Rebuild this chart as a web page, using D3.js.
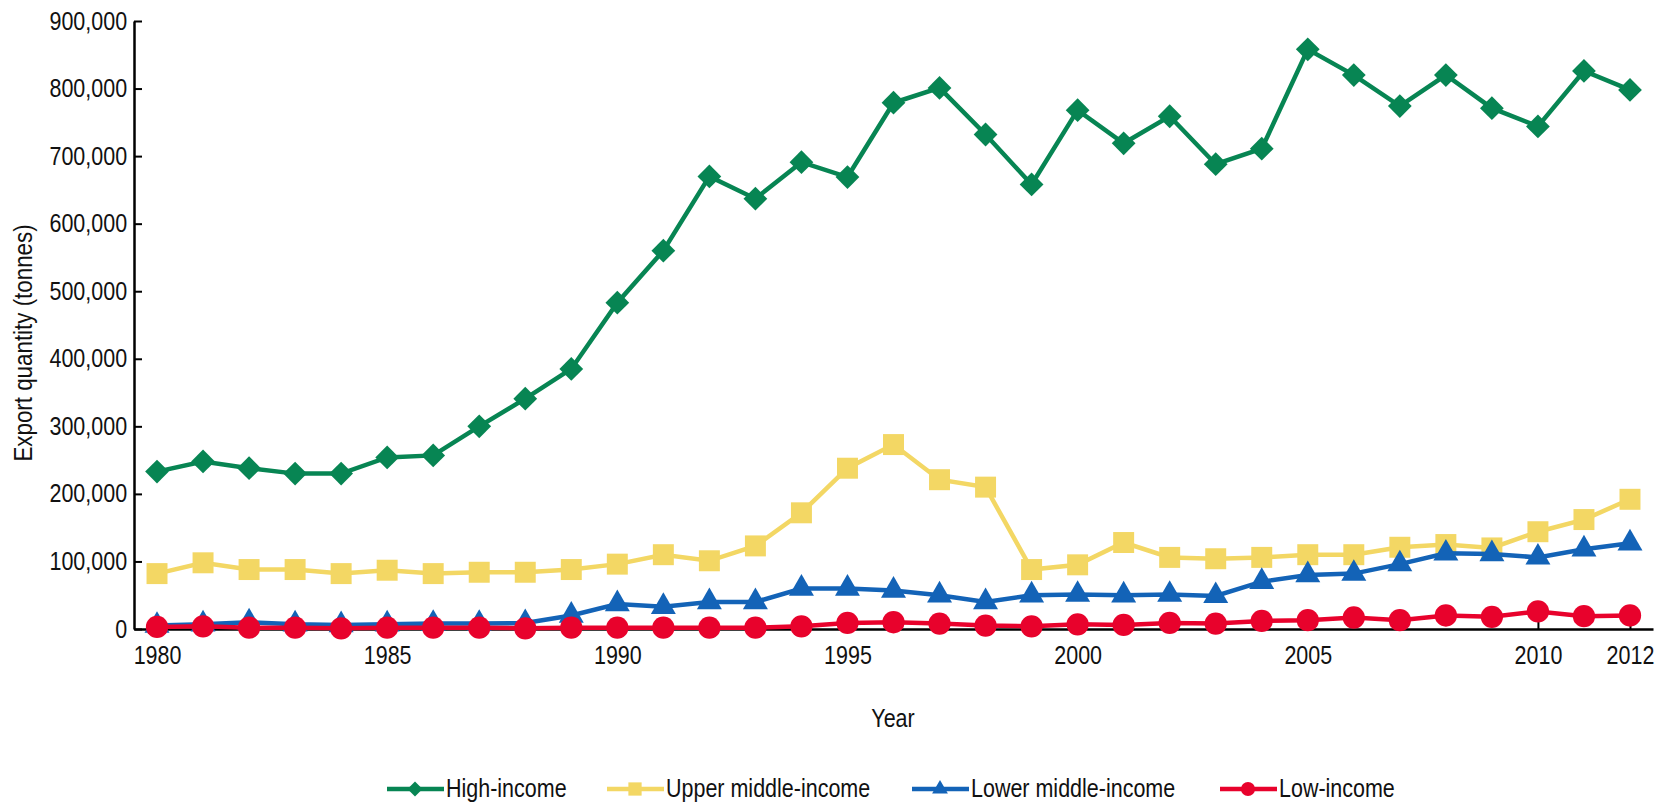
<!DOCTYPE html>
<html>
<head>
<meta charset="utf-8">
<script src="https://cdnjs.cloudflare.com/ajax/libs/d3/7.8.5/d3.min.js"></script>
<style>
  body { margin: 0; background: #fff; }
  text { font-family: "Liberation Sans", Arial, sans-serif; fill: #111; }
</style>
</head>
<body>
<div id="chart"></div>
<script>
const width = 1671;
const height = 803;

const years = d3.range(1980, 2013);
const xTickYears = [1980, 1985, 1990, 1995, 2000, 2005, 2010, 2012];
const yTicks = [0, 100000, 200000, 300000, 400000, 500000, 600000, 700000, 800000, 900000];

// export quantity (tonnes)
const highIncome = [233000, 248000, 238000, 230000, 230000, 254000, 257000, 300000, 341000, 385000,
  483000, 560000, 670000, 637000, 691000, 669000, 779000, 801000, 732000, 658000,
  768000, 719000, 759000, 688000, 711000, 858000, 820000, 774000, 820000, 771000,
  744000, 826000, 798000];
const upperMiddle = [82000, 98000, 88000, 88000, 82000, 87000, 82000, 84000, 84000, 88000,
  96000, 110000, 101000, 123000, 172000, 238000, 273000, 221000, 210000, 88000,
  95000, 128000, 106000, 104000, 106000, 110000, 110000, 121000, 125000, 120000,
  144000, 162000, 192000];
const lowerMiddle = [5000, 7000, 10000, 7000, 6000, 7000, 8000, 8000, 9000, 20000,
  37000, 33000, 40000, 40000, 60000, 60000, 57000, 50000, 40000, 50000,
  51000, 50000, 51000, 49000, 70000, 80000, 82000, 96000, 112000, 111000,
  106000, 118000, 127000];
const lowIncome = [3000, 4000, 2000, 2000, 1000, 2000, 2000, 2000, 1000, 2000,
  2000, 2000, 2000, 2000, 4000, 9000, 10000, 8000, 5000, 4000,
  7000, 6000, 9000, 8000, 12000, 13000, 17000, 13000, 20000, 18000,
  26000, 19000, 20000];

const seriesNames = ["High-income", "Upper middle-income", "Lower middle-income", "Low-income"];
const seriesValues = [highIncome, upperMiddle, lowerMiddle, lowIncome];
const colors = ["#078553", "#f3d764", "#1363b7", "#e8022c"];
const symbols = [d3.symbolDiamond2, d3.symbolSquare, d3.symbolTriangle, d3.symbolCircle];
const symSizes = [360, 440, 270, 390];

// the original type is narrow and tall
const squeeze = "scale(0.86,1)";

const svg = d3.select("#chart").append("svg")
  .attr("width", width)
  .attr("height", height);

const x = d3.scaleLinear().domain([1979.5, 2012.5]).range([134, 1653]);
const y = d3.scaleLinear().domain([0, 900000]).range([629, 21]);

// axes
const yAxis = d3.axisLeft(y)
  .tickValues(yTicks)
  .tickFormat(d3.format(","))
  .tickSizeInner(-8)
  .tickSizeOuter(0)
  .tickPadding(8);
const gy = svg.append("g").attr("transform", "translate(134,0)").call(yAxis);

const xAxis = d3.axisBottom(x)
  .tickValues(xTickYears)
  .tickFormat(d3.format("d"))
  .tickSizeInner(-8)
  .tickSizeOuter(0)
  .tickPadding(17);
const gx = svg.append("g").attr("transform", "translate(0,629)").call(xAxis);

[gx, gy].forEach(g => {
  g.select(".domain").attr("stroke", "#000").attr("stroke-width", 2.5);
  g.selectAll(".tick line").attr("stroke", "#000").attr("stroke-width", 2);
  g.selectAll(".tick text")
    .style("font-size", "25px")
    .attr("fill", "#111")
    .attr("transform", squeeze);
});

svg.append("text")
  .attr("transform", "translate(32,343) rotate(-90) " + squeeze)
  .attr("text-anchor", "middle")
  .style("font-size", "26px")
  .text("Export quantity (tonnes)");

svg.append("text")
  .attr("transform", "translate(893,727) " + squeeze)
  .attr("text-anchor", "middle")
  .style("font-size", "25px")
  .text("Year");

// series
const line = d3.line().x((d, i) => x(years[i])).y(d => y(d));

seriesValues.forEach((vals, s) => {
  const g = svg.append("g");
  g.append("path")
    .datum(vals)
    .attr("fill", "none")
    .attr("stroke", colors[s])
    .attr("stroke-width", 4.5)
    .attr("d", line);
  g.selectAll("path.marker")
    .data(vals)
    .enter()
    .append("path")
    .attr("class", "marker")
    .attr("transform", (d, i) => "translate(" + x(years[i]) + "," + y(d) + ")")
    .attr("d", d3.symbol().type(symbols[s]).size(symSizes[s]))
    .attr("fill", colors[s]);
});

// legend
const legendX = [387, 607, 912, 1220];
const legend = svg.append("g");
seriesNames.forEach((name, s) => {
  const g = legend.append("g").attr("transform", "translate(" + legendX[s] + ",789)");
  g.append("line")
    .attr("x1", 0).attr("x2", 57)
    .attr("stroke", colors[s]).attr("stroke-width", 4.5);
  g.append("path")
    .attr("transform", "translate(28,0)")
    .attr("d", d3.symbol().type(symbols[s]).size(symSizes[s] * 0.4))
    .attr("fill", colors[s]);
  g.append("text")
    .attr("transform", "translate(59,8) " + squeeze)
    .style("font-size", "25px")
    .text(name);
});
</script>
</body>
</html>
